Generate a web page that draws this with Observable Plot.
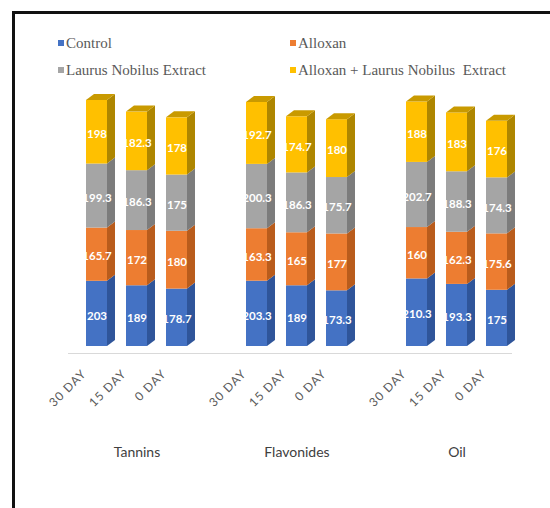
<!DOCTYPE html>
<html>
<head>
<meta charset="utf-8">
<script src="https://cdn.jsdelivr.net/npm/d3@7"></script>
<script src="https://cdn.jsdelivr.net/npm/@observablehq/plot@0.6"></script>
<style>
  html, body { margin: 0; padding: 0; background: #fff; }
  #wrap { position: relative; width: 550px; height: 508px; overflow: hidden; background: #fff; }
  #chart { position: absolute; left: 0; top: 0; }
  #frame { position: absolute; left: 12px; top: 11px; width: 560px; height: 494px;
           border-left: 3px solid #111; border-top: 3px solid #111; border-bottom: 1px solid #d0d0d0; pointer-events: none; }
  .lg { position: absolute; font-family: "Liberation Serif", "DejaVu Serif", serif; font-size: 15px; color: #595959;
        line-height: 16px; white-space: pre; display: flex; align-items: center; }
  .sw { display: inline-block; width: 6px; height: 6px; margin-right: 2px; }
  .ticklab text { letter-spacing: 1px; }
</style>
</head>
<body>
<div id="wrap">
  <div id="chart"></div>
  <div id="legend"></div>
  <div id="frame"></div>
</div>
<script>
// ---- data ----
const groups = ["Tannins", "Flavonides", "Oil"];
const days = ["30 DAY", "15 DAY", "0 DAY"];
const seriesNames = ["Control", "Alloxan", "Laurus Nobilus Extract", "Alloxan + Laurus Nobilus  Extract"];
const control  = [203, 189, 178.7,   203.3, 189, 173.3,   210.3, 193.3, 175];
const alloxan  = [165.7, 172, 180,   163.3, 165, 177,     160, 162.3, 175.6];
const laurus   = [199.3, 186.3, 175, 200.3, 186.3, 175.7, 202.7, 188.3, 174.3];
const combined = [198, 182.3, 178,   192.7, 174.7, 180,   188, 183, 176];
const seriesValues = [control, alloxan, laurus, combined];

// ---- styles ----
const frontColors = ["#4472C4", "#ED7D31", "#A5A5A5", "#FFC000"];
const sideColors  = ["#2F559A", "#B95C1C", "#7C7C7C", "#AE8600"];
const topColor = "#C99A00";
const depthX = 8, depthY = 6;

// ---- table ----
const key = (g, d) => g + "|" + d;
const xDomain = [];
groups.forEach((g, gi) => {
  days.forEach(d => xDomain.push(key(g, d)));
  if (gi < groups.length - 1) xDomain.push("gap" + gi);
});
const rows = [];
groups.forEach((g, gi) => days.forEach((d, di) => seriesNames.forEach((s, si) => {
  rows.push({group: g, day: d, key: key(g, d), series: s, si, value: seriesValues[si][gi * days.length + di]});
})));
const tickRows = [];
groups.forEach(g => days.forEach(d => tickRows.push({key: key(g, d), day: d})));

function render3d(index, scales, values, dimensions, context, next) {
  const g = next(index, scales, values, dimensions, context);
  const rects = Array.from(g.querySelectorAll("rect"));
  const ns = "http://www.w3.org/2000/svg";
  const extra = document.createElementNS(ns, "g");
  rects.forEach((r, k) => {
    const d = rows[index[k]];
    const x = +r.getAttribute("x"), y = +r.getAttribute("y");
    const w = +r.getAttribute("width"), h = +r.getAttribute("height");
    const side = document.createElementNS(ns, "polygon");
    side.setAttribute("points", `${x+w},${y+h} ${x+w+depthX},${y+h-depthY} ${x+w+depthX},${y-depthY} ${x+w},${y}`);
    side.setAttribute("fill", sideColors[d.si]);
    extra.appendChild(side);
    if (d.si === seriesNames.length - 1) {
      const top = document.createElementNS(ns, "polygon");
      top.setAttribute("points", `${x},${y} ${x+depthX},${y-depthY} ${x+w+depthX},${y-depthY} ${x+w},${y}`);
      top.setAttribute("fill", topColor);
      extra.appendChild(top);
    }
  });
  g.appendChild(extra);
  return g;
}

const chart = Plot.plot({
  width: 550,
  height: 508,
  marginTop: 89,
  marginBottom: 162,
  marginLeft: 56.5,
  marginRight: 13.5,
  style: {background: "transparent", overflow: "visible"},
  x: {domain: xDomain, paddingInner: 0.475, paddingOuter: 0.7375, round: false, axis: null},
  y: {domain: [0, 800], axis: null},
  color: {domain: seriesNames, range: frontColors},
  marks: [
    Plot.ruleY([0], {stroke: "#d9d9d9", strokeWidth: 1, dy: 7, insetLeft: 11.5, insetRight: 24.5}),
    Plot.barY(rows, Plot.stackY({x: "key", y: "value", fill: "series", z: "series", order: seriesNames, render: render3d})),
    Plot.text(rows, Plot.stackY({x: "key", y: "value", z: "series", order: seriesNames, text: d => String(d.value),
      fill: "white", fontFamily: "Lato, 'Open Sans', sans-serif", fontWeight: "bold", fontSize: 11.5, dy: 2})),
    Plot.text(tickRows, {x: "key", text: "day", frameAnchor: "bottom", rotate: -45, textAnchor: "end",
      dx: -10, dy: 28, fill: "#595959", fontFamily: "Lato, 'Open Sans', sans-serif", fontSize: 12, className: "ticklab"}),
    Plot.text(groups, {x: g => key(g, days[1]), text: d => d, frameAnchor: "bottom", dy: 110,
      fill: "#404040", fontFamily: "Lato, 'Open Sans', sans-serif", fontSize: 14})
  ]
});
document.getElementById("chart").appendChild(chart);

// ---- legend ----
const legendPos = [[58, 35], [290, 35], [58, 62], [290, 62]];
const legend = document.getElementById("legend");
seriesNames.forEach((s, i) => {
  const item = document.createElement("div");
  item.className = "lg";
  item.style.left = legendPos[i][0] + "px";
  item.style.top = legendPos[i][1] + "px";
  const sw = document.createElement("span");
  sw.className = "sw";
  sw.style.background = frontColors[i];
  item.appendChild(sw);
  item.appendChild(document.createTextNode(s));
  legend.appendChild(item);
});
</script>
</body>
</html>
